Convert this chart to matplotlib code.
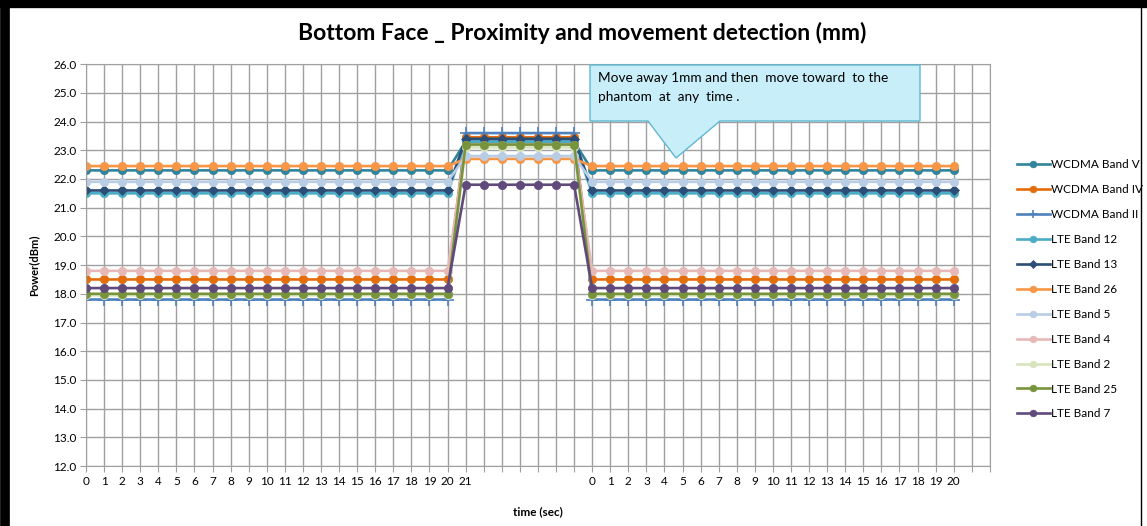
import numpy as np
import matplotlib.pyplot as plt
from matplotlib.patches import Polygon
from matplotlib.lines import Line2D

plt.rcParams['font.family'] = ['Lato', 'DejaVu Sans']

# x layout: 0..20, 21, six blank slots, then 0..20 again, two blank slots at the end
tick_labels = [str(i) for i in range(22)] + [''] * 6 + [str(i) for i in range(21)] + ['', '']
n_low1, n_high, n_low2 = 21, 7, 21

series = ['WCDMA Band V', 'WCDMA Band IV', 'WCDMA Band II', 'LTE Band 12', 'LTE Band 13',
          'LTE Band 26', 'LTE Band 5', 'LTE Band 4', 'LTE Band 2', 'LTE Band 25', 'LTE Band 7']
low_power = [22.3, 18.5, 17.8, 21.5, 21.6, 22.45, 21.9, 18.8, 17.95, 18.0, 18.2]
high_power = [23.3, 23.45, 23.6, 23.3, 23.4, 22.7, 22.8, 23.2, 23.1, 23.2, 21.8]
colors = ['#31849B', '#E46C0A', '#4F81BD', '#4BACC6', '#2C4D75', '#F79646',
          '#B9CDE5', '#E6B9B8', '#D7E4BD', '#77933C', '#604A7B']
markers = ['o', 'o', '+', 'o', 'D', 'o', 'o', 'o', 'o', 'o', 'o']

fig = plt.figure(figsize=(11.47, 5.26), dpi=100)
ax = fig.add_axes([0.075, 0.114, 0.788, 0.764])

x = np.arange(n_low1 + n_high + n_low2)
for name, lo, hi, c, m in zip(series, low_power, high_power, colors, markers):
    y = np.r_[np.full(n_low1, lo), np.full(n_high, hi), np.full(n_low2, lo)]
    ms = 8 if m == '+' else (5 if m == 'D' else 6)
    ax.plot(x, y, color=c, lw=1.9, marker=m, ms=ms, mew=1.2 if m == '+' else 0.5,
            mec=c, label=name)

ax.set_xlim(0, len(tick_labels) - 1)
ax.set_ylim(12, 26)
ax.set_xticks(np.arange(len(tick_labels)))
ax.set_xticklabels(tick_labels, fontsize=8.5)
ax.set_yticks(np.arange(12, 27, 1))
ax.set_yticklabels(['%.1f' % v for v in range(12, 27)], fontsize=8.5)
ax.grid(True, color='#A0A0A0', lw=1)
ax.set_axisbelow(True)
for s in ax.spines.values():
    s.set_color('#A0A0A0')
ax.tick_params(length=4, color='#A0A0A0', pad=3)

ax.set_ylabel('Power(dBm)', fontsize=8, fontweight='bold', labelpad=10)
ax.set_xlabel('time (sec)', fontsize=8.5, fontweight='bold', labelpad=14)
fig.text(0.508, 0.938, 'Bottom Face _ Proximity and movement detection (mm)',
         ha='center', va='center', fontsize=16.5, fontweight='bold')

leg = ax.legend(loc='upper left', bbox_to_anchor=(1.018, 0.79), frameon=False,
                fontsize=8.5, handlelength=2.8, handletextpad=0.1,
                labelspacing=1.18, markerscale=0.8)

# callout box with pointer
pts_px = [(590, 65), (920, 65), (920, 121), (720, 121), (676, 158), (648, 121), (590, 121)]
pts = [(px / 1147, 1 - py / 526) for px, py in pts_px]
fig.patches.append(Polygon(pts, closed=True, transform=fig.transFigure,
                           facecolor='#C8EEF9', edgecolor='#5FB8D2', lw=1, zorder=5))
fig.text(598 / 1147, 1 - 78 / 526, 'Move away 1mm and then  move toward  to the',
         fontsize=9.8, va='center', ha='left', zorder=6)
fig.text(598 / 1147, 1 - 97 / 526, 'phantom  at  any  time .',
         fontsize=9.8, va='center', ha='left', zorder=6)

# outer frame
fig.add_artist(Line2D([0, 1], [1 - 4 / 526, 1 - 4 / 526], transform=fig.transFigure, color='black', lw=6))
fig.add_artist(Line2D([5 / 1147, 5 / 1147], [0, 1], transform=fig.transFigure, color='black', lw=7))
fig.add_artist(Line2D([1141 / 1147, 1141 / 1147], [0, 1], transform=fig.transFigure, color='black', lw=1))

fig.savefig('out.png', dpi=100)
